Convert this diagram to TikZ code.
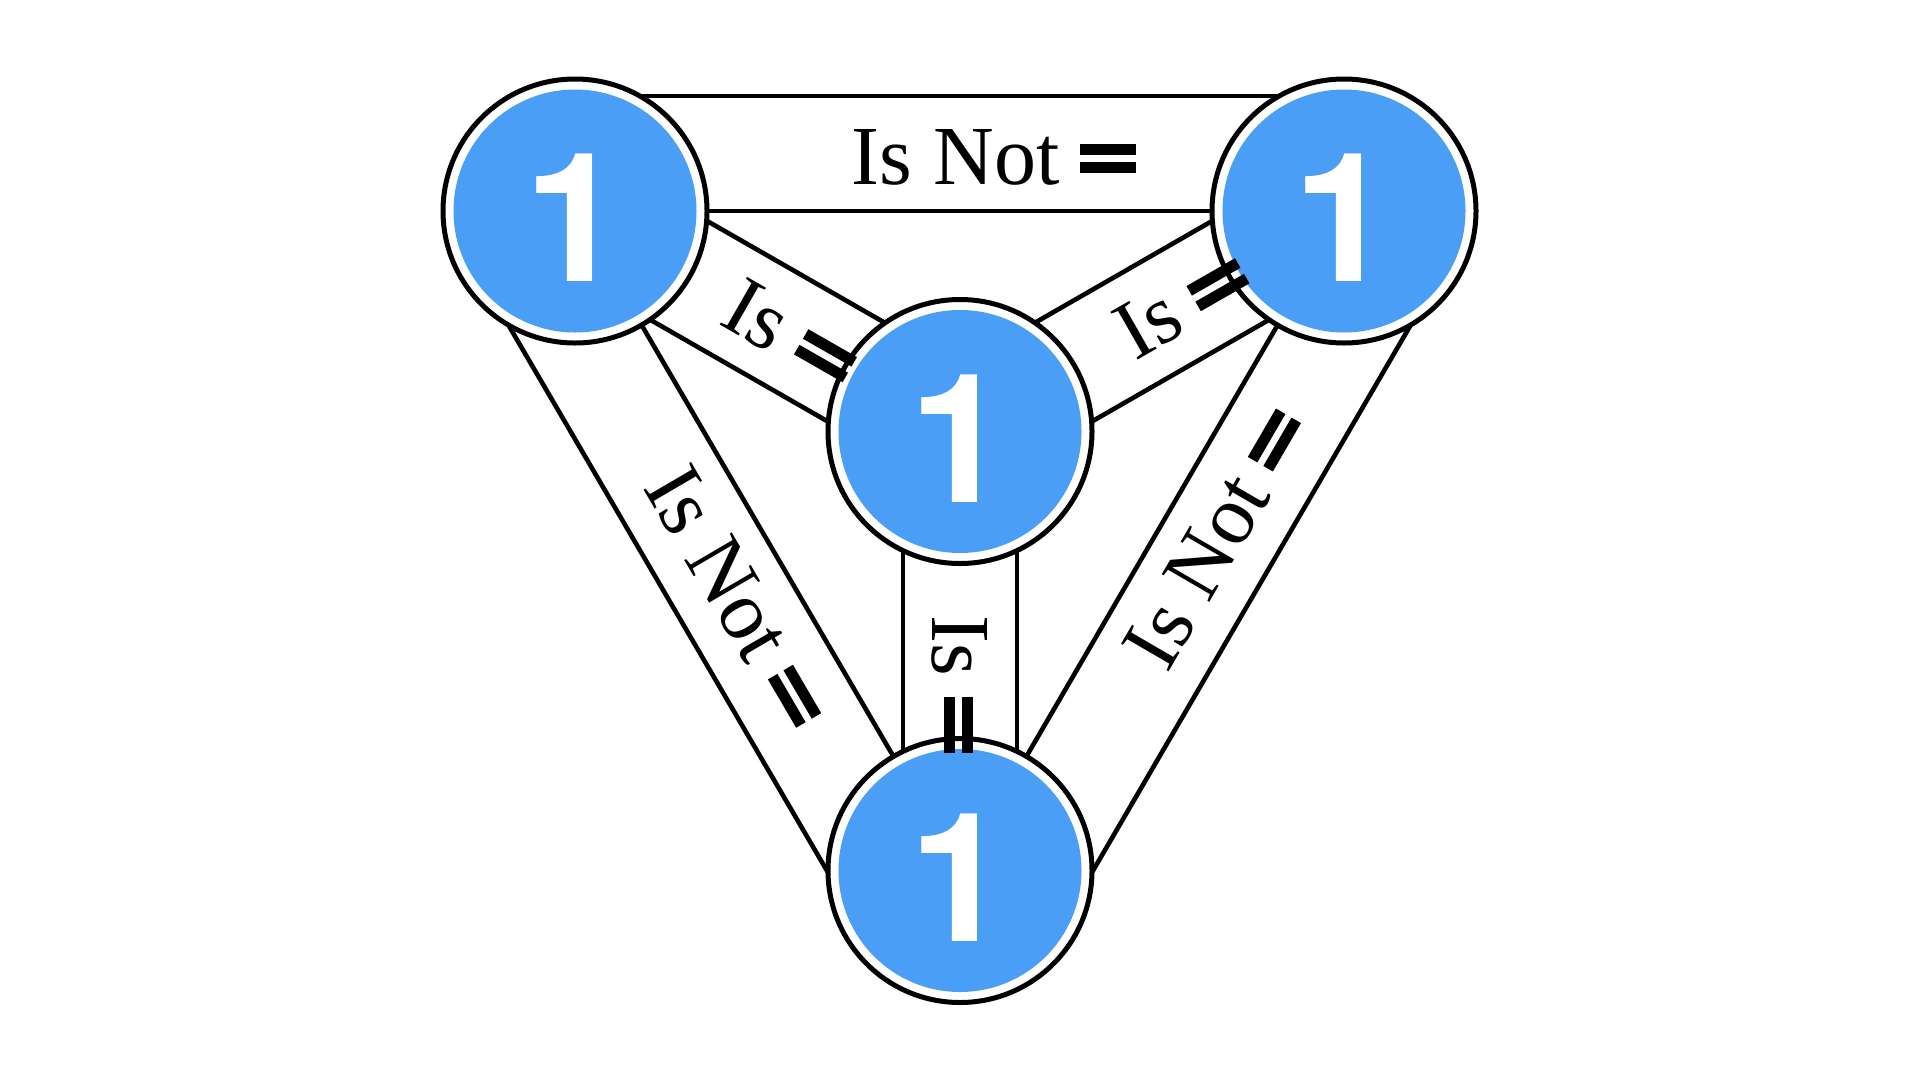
\documentclass[tikz,border=0pt]{standalone}
\usepackage{fontspec}
\setmainfont{Liberation Serif}
\newfontfamily\herosfont{TeX Gyre Heros}
\usetikzlibrary{calc}
\definecolor{discblue}{HTML}{4A9EF5}
\newcommand\eqsym{\rlap{\rule[29.5pt]{56pt}{11pt}}\rule[11.5pt]{56pt}{11pt}}
\pgfdeclarelayer{background}
\pgfsetlayers{background,main}
\begin{document}
\begin{tikzpicture}[x=1pt,y=-1pt,
  band/.style={line width=4.6pt},
  ring/.style={circle, draw, line width=5pt, fill=white, minimum size=264pt, inner sep=0pt},
  disc/.style={circle, fill=discblue, minimum size=243pt, inner sep=0pt},
  digit/.style={text=white, font=\herosfont\bfseries\fontsize{180pt}{180pt}\selectfont, inner sep=0pt, yshift=-7pt},
  lbl/.style={font=\fontsize{84pt}{100pt}\selectfont, inner sep=0pt}]
\useasboundingbox (0,0) rectangle (1920,1080);
\begin{pgfonlayer}{background}
\fill[white] (0,0) rectangle (1920,1080);
\end{pgfonlayer}
% circles
\foreach \n/\p in {TL/{(575,211)}, TR/{(1344,211)}, C/{(960,431.5)}, B/{(960,870.5)}}{
  \node[ring] (\n) at \p {};
  \node[disc] (\n d) at (\n) {};
  \node[digit] (\n n) at (\n) {1};
}
% bands
\begin{pgfonlayer}{background}
% top outer band TL-TR
\draw[band] (TL.center) -- (TR.center);
\draw[band] ($(TL)!115pt!90:(TR)$) -- ($(TR)!115pt!-90:(TL)$);
% left outer band TL-B
\draw[band] (TL.center) -- (B.center);
\draw[band] ($(TL)!115pt!-90:(B)$) -- ($(B)!115pt!90:(TL)$);
% right outer band B-TR
\draw[band] (B.center) -- (TR.center);
\draw[band] ($(B)!115pt!-90:(TR)$) -- ($(TR)!115pt!90:(B)$);
% inner band TL-C
\draw[band] ($(TL)!57pt!90:(C)$) -- ($(C)!57pt!-90:(TL)$);
\draw[band] ($(TL)!57pt!-90:(C)$) -- ($(C)!57pt!90:(TL)$);
% inner band C-TR
\draw[band] ($(C)!57pt!90:(TR)$) -- ($(TR)!57pt!-90:(C)$);
\draw[band] ($(C)!57pt!-90:(TR)$) -- ($(TR)!57pt!90:(C)$);
% inner band C-B
\draw[band] ($(C)!57pt!90:(B)$) -- ($(B)!57pt!-90:(C)$);
\draw[band] ($(C)!57pt!-90:(B)$) -- ($(B)!57pt!90:(C)$);
\end{pgfonlayer}
% labels
\node[lbl] (lTop) at ($(TL)!0.545!(TR)!54pt!90:(TR)$) {Is Not \eqsym};
\node[lbl, rotate=-59.7] (lLeft) at ($(TL)!0.544!(B)!54pt!-90:(B)$) {Is Not \eqsym};
\node[lbl, rotate=59.8] (lRight) at ($(B)!0.545!(TR)!54pt!-90:(TR)$) {Is Not \eqsym};
\node[lbl, rotate=-29.8] (lTC) at ($(TL)!0.56!(C)$) {Is \eqsym};
\node[lbl, rotate=29.8] (lCR) at ($(C)!0.578!(TR)$) {Is \eqsym};
\node[lbl, rotate=-90] (lCB) at ($(C)!0.575!(B)$) {Is \eqsym};
\end{tikzpicture}
\end{document}
